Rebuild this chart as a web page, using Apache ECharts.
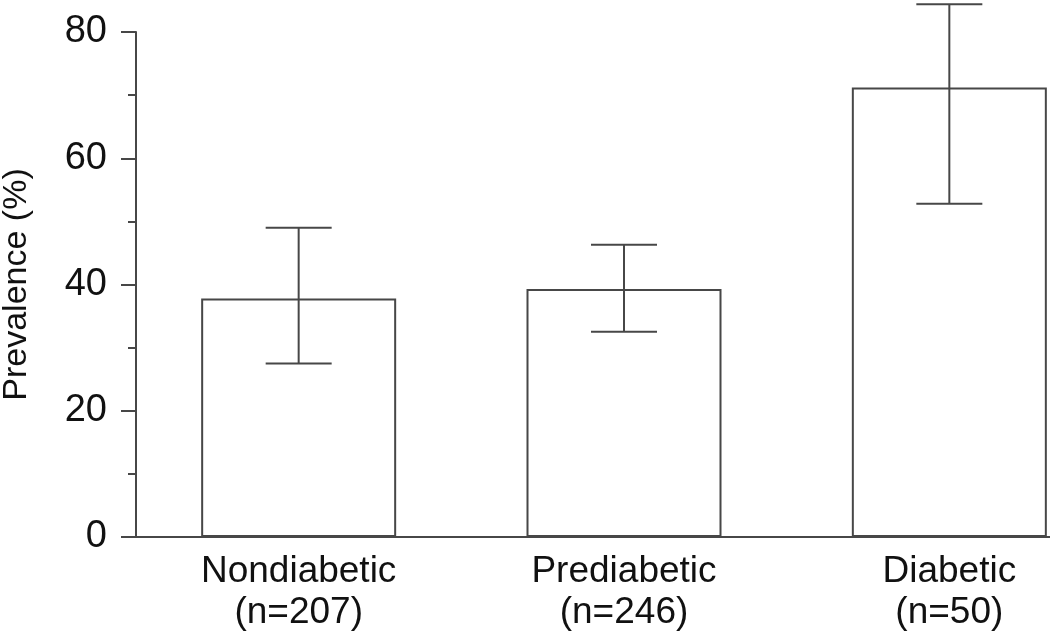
<!DOCTYPE html>
<html>
<head>
<meta charset="utf-8">
<script src="https://cdn.jsdelivr.net/npm/echarts@6/dist/echarts.min.js"></script>
<style>
  html, body { margin: 0; padding: 0; background: #fff; }
  #grafica { width: 1050px; height: 641px; }
</style>
</head>
<body>
<div id="grafica"></div>
<script>
// Datos
const categorias = ['Nondiabetic\n(n=207)', 'Prediabetic\n(n=246)', 'Diabetic\n(n=50)'];
const prevalencia = [37.8, 39.3, 71.2];
const limiteInferior = [27.5, 32.5, 52.8];
const limiteSuperior = [49.0, 46.3, 84.4];

const colorLinea = '#474747';
const fuente = '"Liberation Sans", Arial, sans-serif';

// error bars: [indice, inferior, superior]
const datosError = categorias.map((c, i) => [i, limiteInferior[i], limiteSuperior[i]]);

const chart = echarts.init(document.getElementById('grafica'));

chart.setOption({
  animation: false,
  backgroundColor: '#fff',
  grid: {
    left: 136, top: 32, width: 976, height: 505,
    containLabel: false,
    outerBoundsMode: 'none'
  },
  xAxis: {
    type: 'category',
    data: categorias,
    axisLine: { show: true, lineStyle: { color: colorLinea, width: 2 } },
    axisTick: { show: false },
    axisLabel: {
      color: '#111',
      fontFamily: fuente,
      fontSize: 37,
      lineHeight: 41,
      margin: 14
    }
  },
  yAxis: {
    type: 'value',
    min: 0,
    max: 80,
    interval: 20,
    name: 'Prevalence (%)',
    nameLocation: 'middle',
    nameGap: 102,
    nameTextStyle: { color: '#111', fontFamily: fuente, fontSize: 34 },
    axisLine: { show: true, lineStyle: { color: colorLinea, width: 2 } },
    axisTick: { show: true, inside: false, length: 15, lineStyle: { color: colorLinea, width: 2 } },
    minorTick: { show: true, splitNumber: 2, length: 8, lineStyle: { color: colorLinea, width: 2 } },
    splitLine: { show: false },
    axisLabel: { color: '#111', fontFamily: fuente, fontSize: 38, margin: 29 }
  },
  series: [
    {
      type: 'bar',
      data: prevalencia,
      barWidth: 195,
      itemStyle: { color: '#fff', borderColor: colorLinea, borderWidth: 2 }
    },
    {
      type: 'custom',
      clip: false,
      data: datosError,
      z: 5,
      renderItem: function (params, api) {
        const x = api.value(0);
        const arriba = api.coord([x, api.value(2)]);
        const abajo = api.coord([x, api.value(1)]);
        const mitad = 33;
        const estilo = { stroke: colorLinea, lineWidth: 2 };
        return {
          type: 'group',
          children: [
            { type: 'line', shape: { x1: arriba[0], y1: arriba[1], x2: abajo[0], y2: abajo[1] }, style: estilo },
            { type: 'line', shape: { x1: arriba[0] - mitad, y1: arriba[1], x2: arriba[0] + mitad, y2: arriba[1] }, style: estilo },
            { type: 'line', shape: { x1: abajo[0] - mitad, y1: abajo[1], x2: abajo[0] + mitad, y2: abajo[1] }, style: estilo }
          ]
        };
      }
    }
  ]
});
</script>
</body>
</html>
